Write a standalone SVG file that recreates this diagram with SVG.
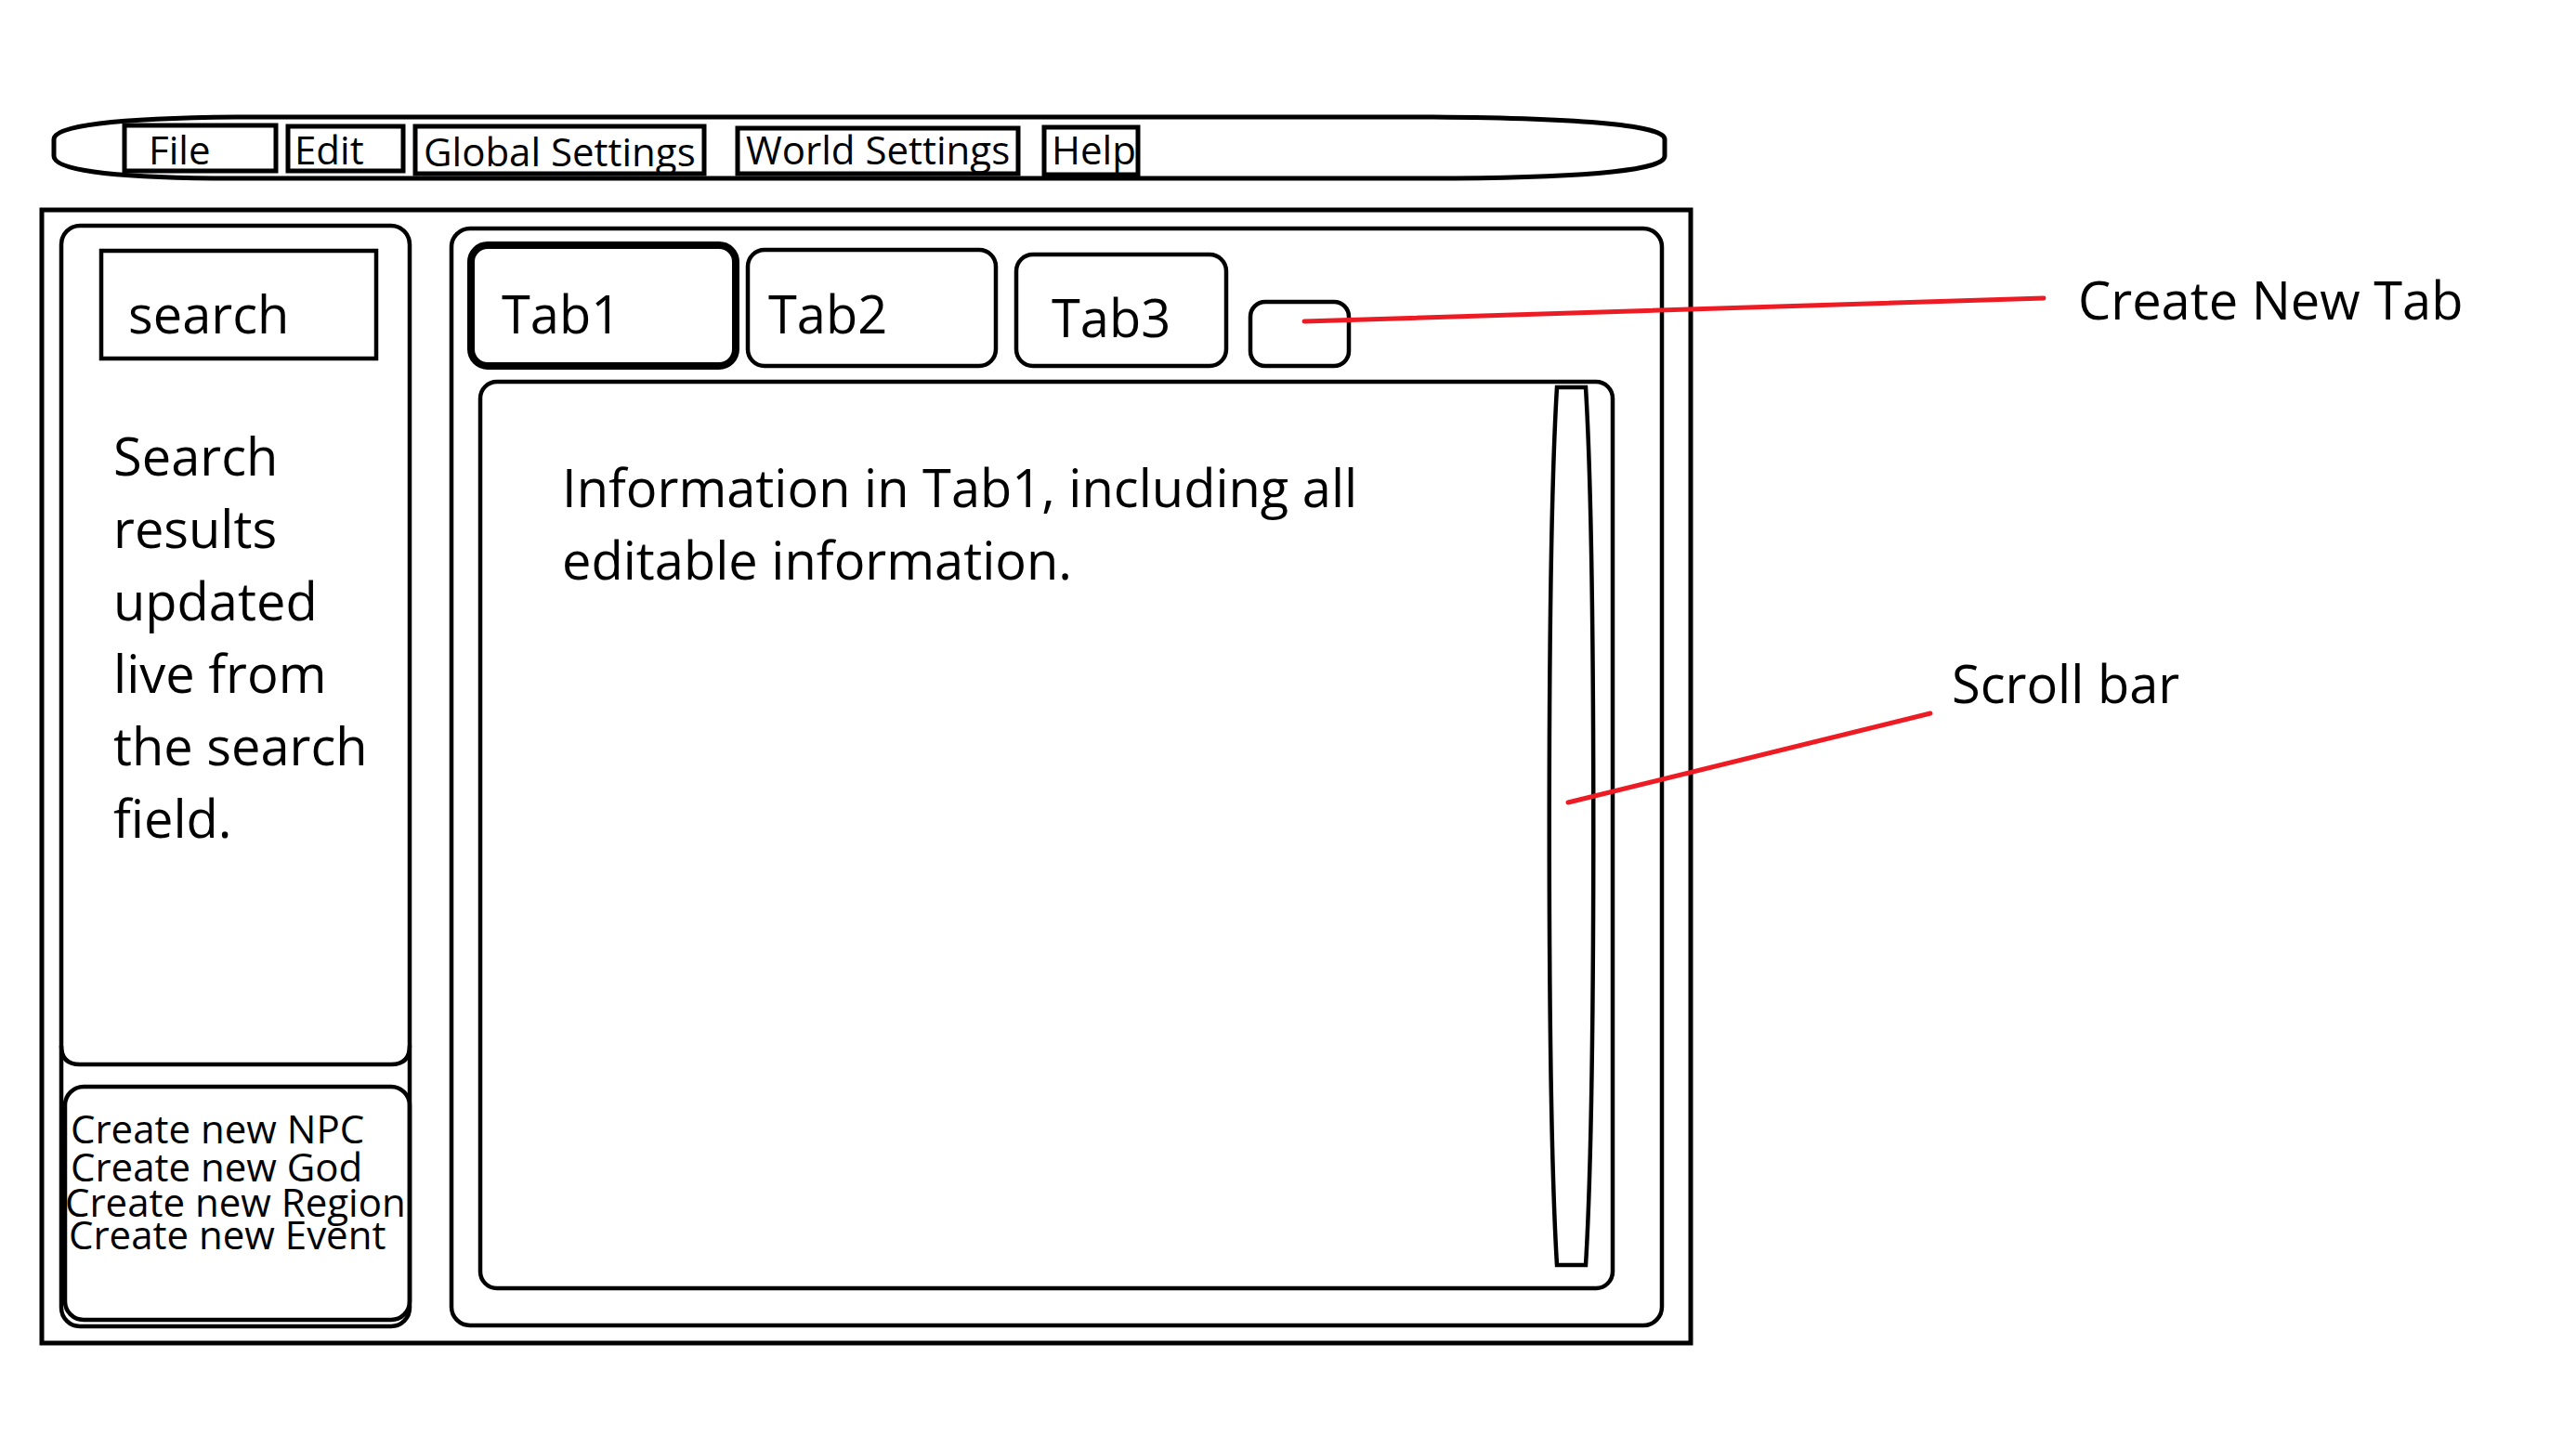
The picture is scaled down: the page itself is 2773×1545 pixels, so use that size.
<svg xmlns="http://www.w3.org/2000/svg" width="2773" height="1545" viewBox="0 0 2773 1545">
<style>
  .ln { fill: none; stroke: #000; stroke-width: 5; }
  .thin { fill: none; stroke: #000; stroke-width: 4.5; }
  .red { fill: none; stroke: #ED1C24; stroke-width: 5; stroke-linecap: round; }
  text { font-family: "Open Sans", "Noto Sans", "DejaVu Sans", sans-serif; fill: #000; }
  .big { font-size: 56px; }
  .menu { font-size: 42px; }
  .small { font-size: 42px; }
</style>
<rect x="0" y="0" width="2773" height="1545" fill="#fff"/>

<g id="menubar">
  <path class="ln" d="M 254,126 L 1543,126 Q 1792,128 1792,150 L 1792,168 Q 1792,190 1566,192 L 230,192 Q 58,190 58,168 L 58,150 Q 58,128 254,126 Z"/>
  <g id="menu-file"><rect class="ln" x="134" y="135" width="163" height="49"/><text class="menu" x="160" y="177">File</text></g>
  <g id="menu-edit"><rect class="ln" x="310" y="136" width="124" height="48"/><text class="menu" x="317" y="177">Edit</text></g>
  <g id="menu-global"><rect class="ln" x="447" y="136" width="311" height="51"/><text class="menu" x="456" y="179">Global Settings</text></g>
  <g id="menu-world"><rect class="ln" x="794" y="138" width="302" height="49"/><text class="menu" x="803" y="177">World Settings</text></g>
  <g id="menu-help"><rect class="ln" x="1124" y="137" width="101" height="51"/><text class="menu" x="1132" y="177">Help</text></g>
</g>

<g id="window">
  <rect class="ln" x="45" y="226" width="1775" height="1220"/>
</g>

<g id="left-panel">
  <rect class="thin" x="66" y="243" width="375" height="1185" rx="20"/>
  <path class="thin" d="M 66,1126 Q 66,1146 86,1146 L 421,1146 Q 441,1146 441,1126"/>
</g>

<g id="search-box">
  <rect class="thin" x="109" y="270" width="296" height="116"/>
  <text class="big" x="138" y="359">search</text>
</g>

<g id="search-results">
  <text class="big" x="122" y="512">Search</text>
  <text class="big" x="122" y="590">results</text>
  <text class="big" x="122" y="668">updated</text>
  <text class="big" x="122" y="746">live from</text>
  <text class="big" x="122" y="824">the search</text>
  <text class="big" x="122" y="902">field.</text>
</g>

<g id="create-box">
  <rect class="thin" x="70" y="1170" width="371" height="251" rx="20"/>
  <text class="small" x="76" y="1231">Create new NPC</text>
  <text class="small" x="76" y="1272">Create new God</text>
  <text class="small" x="70" y="1310">Create new Region</text>
  <text class="small" x="74" y="1345">Create new Event</text>
</g>

<g id="tab-panel">
  <rect class="thin" x="486" y="246" width="1303" height="1181" rx="20"/>
</g>

<g id="tab1">
  <rect fill="none" stroke="#000" stroke-width="8" x="507" y="264" width="285" height="130" rx="18"/>
  <text class="big" x="540" y="359">Tab1</text>
</g>
<g id="tab2">
  <rect class="thin" x="805" y="269" width="267" height="125" rx="18"/>
  <text class="big" x="827" y="359">Tab2</text>
</g>
<g id="tab3">
  <rect class="thin" x="1094" y="274" width="226" height="120" rx="18"/>
  <text class="big" x="1132" y="363">Tab3</text>
</g>
<g id="new-tab-button">
  <rect class="thin" x="1346" y="325" width="106" height="69" rx="16"/>
</g>

<g id="content-area">
  <rect class="thin" x="517" y="411" width="1219" height="976" rx="18"/>
  <text class="big" x="605" y="546">Information in Tab1, including all</text>
  <text class="big" x="605" y="624">editable information.</text>
</g>

<g id="scroll-bar">
  <path class="thin" d="M 1676,417 L 1707,417 C 1718,600 1718,1180 1707,1362 L 1676,1362 C 1665,1180 1665,600 1676,417 Z"/>
</g>

<g id="connectors">
  <line class="red" x1="1404" y1="346" x2="2200" y2="321"/>
  <line class="red" x1="1688" y1="864" x2="2078" y2="768"/>
</g>

<g id="annotations">
  <text class="big" x="2237" y="344">Create New Tab</text>
  <text class="big" x="2101" y="757">Scroll bar</text>
</g>
</svg>
